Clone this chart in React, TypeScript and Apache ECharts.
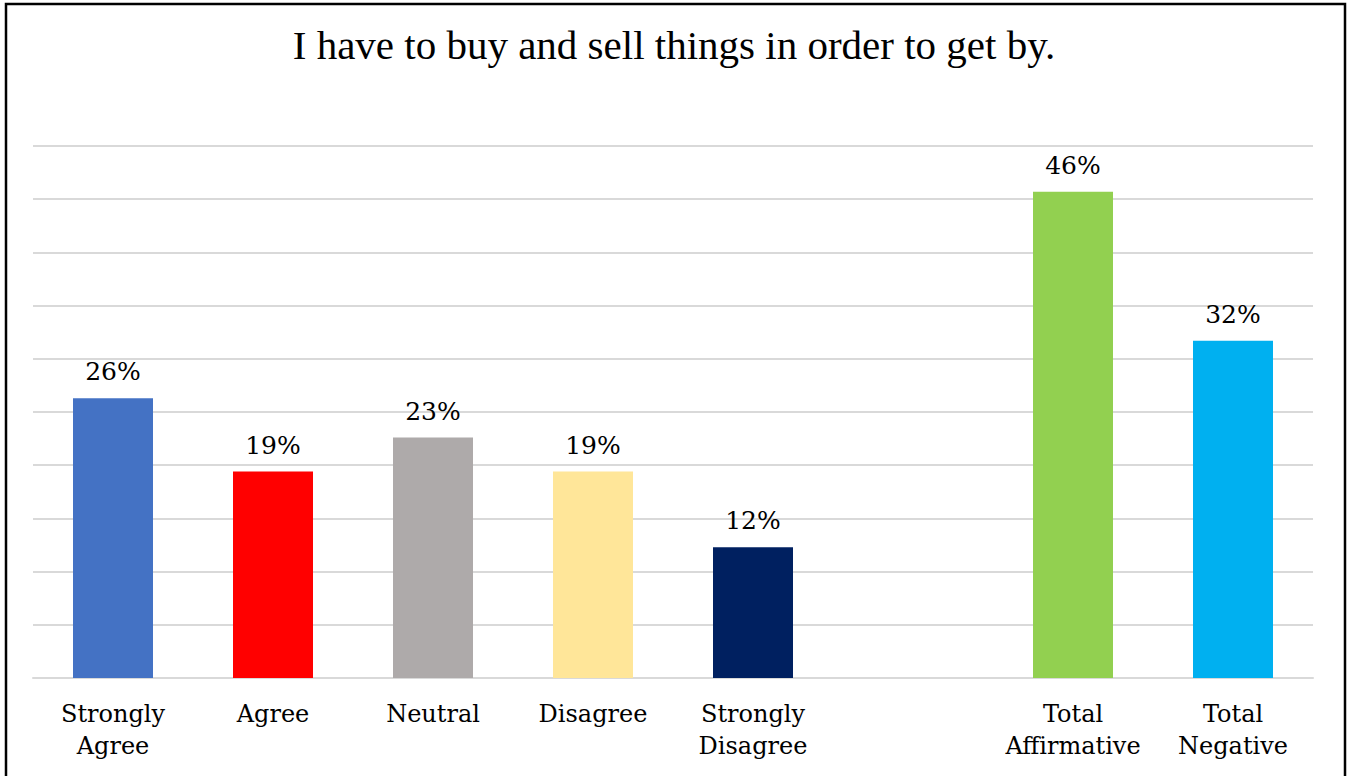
import React, { useEffect, useRef } from "react";
import * as echarts from "echarts";

const TITLE = "I have to buy and sell things in order to get by.";
const categories = ["Strongly\nAgree", "Agree", "Neutral", "Disagree", "Strongly\nDisagree", "", "Total\nAffirmative", "Total\nNegative"];
const values: (number | null)[] = [26.3, 19.4, 22.6, 19.4, 12.3, null, 45.7, 31.7];
const colors = ["#4472C4", "#FF0000", "#AEAAAA", "#FFE699", "#002060", "#FFFFFF", "#92D050", "#00B0F0"];
const yMax = 50;
const yInterval = 5;

export default function App() {
  const ref = useRef<HTMLDivElement>(null);
  useEffect(() => {
    if (!ref.current) return;
    const chart = echarts.init(ref.current, undefined, { renderer: "svg" });
    const serif = "'DejaVu Serif', 'Liberation Serif', serif";
    chart.setOption({
      animation: false,
      backgroundColor: "#ffffff",
      title: {
        text: TITLE,
        left: "center",
        top: 19,
        textStyle: { fontFamily: "'Liberation Serif', 'Times New Roman', serif", fontSize: 41, fontWeight: "normal", color: "#000" },
      },
      graphic: [
        {
          type: "rect",
          shape: { x: 6, y: 4, width: 1339, height: 800 },
          style: { fill: "none", stroke: "#000", lineWidth: 2.5 },
          silent: true,
        },
      ],
      grid: { left: 33, right: 35, top: 146, bottom: 98, containLabel: false },
      xAxis: {
        type: "category",
        data: categories,
        axisLine: { lineStyle: { color: "#D9D9D9", width: 2 } },
        axisTick: { show: false },
        axisLabel: {
          interval: 0,
          margin: 20,
          fontFamily: serif,
          fontSize: 24,
          lineHeight: 32,
          color: "#000",
        },
      },
      yAxis: {
        type: "value",
        min: 0,
        max: yMax,
        interval: yInterval,
        axisLabel: { show: false },
        axisLine: { show: false },
        axisTick: { show: false },
        splitLine: { lineStyle: { color: "#D9D9D9", width: 2 } },
      },
      series: [
        {
          type: "bar",
          barWidth: 80,
          data: values.map((v, i) => ({ value: v, itemStyle: { color: colors[i] } })),
          label: {
            show: true,
            position: "top",
            distance: 14,
            fontFamily: serif,
            fontSize: 25,
            color: "#000",
            formatter: (p: any) => (p.value == null ? "" : Math.round(p.value) + "%"),
          },
        },
      ],
    });
    return () => chart.dispose();
  }, []);
  return (
    <div style={{ position: "fixed", left: 0, top: 0, width: 1348, height: 776 }}>
      <div ref={ref} style={{ width: 1348, height: 776 }} />
    </div>
  );
}
